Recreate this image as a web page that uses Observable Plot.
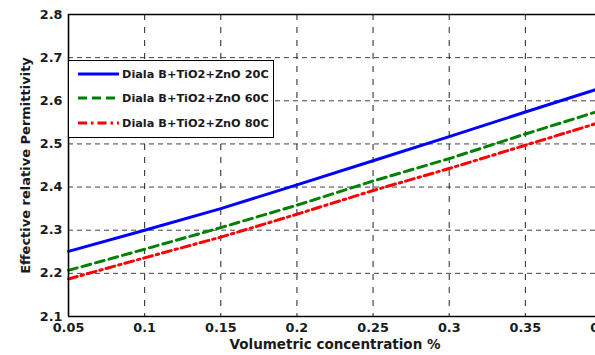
<!DOCTYPE html>
<html>
<head>
<meta charset="utf-8">
<script src="https://cdn.jsdelivr.net/npm/d3@7"></script>
<script src="https://cdn.jsdelivr.net/npm/@observablehq/plot@0.6"></script>
<style>
  html, body { margin: 0; padding: 0; background: #fff; overflow: hidden; width: 595px; height: 355px; }
  #wrap { position: relative; width: 620px; height: 355px; }
  #legend { position: absolute; left: 68px; top: 60px; width: 206px; height: 78px; background: #fff;
            border: 1.2px solid #000; box-sizing: border-box; font-family: "DejaVu Sans", sans-serif;
            font-weight: bold; font-size: 11.3px; color: #1a1a1a; }
  .row { position: absolute; left: 0; height: 14px; display: flex; align-items: center; white-space: nowrap; }
  .row svg { margin-left: 9px; margin-right: 3px; }
</style>
</head>
<body>
<div id="wrap"></div>
<script>
const concentration = [0.05, 0.1, 0.15, 0.2, 0.25, 0.3, 0.35, 0.4];
const perm20C = [2.251, 2.300, 2.350, 2.405, 2.461, 2.517, 2.574, 2.630];
const perm60C = [2.207, 2.256, 2.306, 2.358, 2.414, 2.466, 2.523, 2.578];
const perm80C = [2.187, 2.236, 2.284, 2.337, 2.392, 2.443, 2.497, 2.551];
const seriesNames = ["Diala B+TiO2+ZnO 20C", "Diala B+TiO2+ZnO 60C", "Diala B+TiO2+ZnO 80C"];
const seriesColors = ["#0000ff", "#008000", "#ff0000"];
const seriesDash = [null, "9,5", "9,4,2.5,4"];
const xTicks = [0.05, 0.1, 0.15, 0.2, 0.25, 0.3, 0.35, 0.4];
const yTicks = [2.1, 2.2, 2.3, 2.4, 2.5, 2.6, 2.7, 2.8];

const allSeries = [perm20C, perm60C, perm80C];
const rows = [];
allSeries.forEach((vals, si) => vals.forEach((v, i) => rows.push({series: seriesNames[si], x: concentration[i], y: v})));

const lineMarks = seriesNames.map((name, si) =>
  Plot.line(rows.filter(d => d.series === name), {
    x: "x", y: "y", stroke: seriesColors[si], strokeWidth: 3,
    strokeDasharray: seriesDash[si] || undefined
  })
);

const fmt = d => String(+d.toFixed(2));

const chart = Plot.plot({
  width: 620,
  height: 355,
  marginLeft: 68,
  marginRight: 19,
  marginTop: 14,
  marginBottom: 39,
  style: { fontFamily: "'DejaVu Sans', sans-serif", fontSize: "12px", fontWeight: "bold", color: "#1a1a1a", background: "#fff" },
  x: { type: "linear", domain: [0.05, 0.4] },
  y: { type: "linear", domain: [2.1, 2.8] },
  marks: [
    Plot.gridY(yTicks, { stroke: "#444", strokeOpacity: 1, strokeWidth: 1, strokeDasharray: "5,4" }),
    Plot.gridX(xTicks, { stroke: "#222", strokeOpacity: 1, strokeWidth: 1, strokeDasharray: "6,7" }),
    Plot.axisX(xTicks, { tickSize: 0, tickPadding: 6, tickFormat: fmt, fontSize: 12.8, fontWeight: "bold", label: null }),
    Plot.axisY(yTicks, { tickSize: 0, tickPadding: 6, tickFormat: fmt, fontSize: 12.8, fontWeight: "bold", label: null }),
    ...lineMarks,
    Plot.ruleY([2.1, 2.8], { stroke: "#000", strokeWidth: 1.6 }),
    Plot.ruleX([0.05, 0.4], { stroke: "#000", strokeWidth: 1.6 }),
    Plot.text(["Volumetric concentration %"], { frameAnchor: "bottom", dy: 32, text: d => d, fontSize: 13.5, fontWeight: "bold" }),
    Plot.text(["Effective relative Permittivity"], { frameAnchor: "left", dx: -43, rotate: -90, textAnchor: "middle", text: d => d, fontSize: 13, fontWeight: "bold" })
  ]
});

const wrap = document.getElementById("wrap");
wrap.appendChild(chart);

// Legend overlay
const legend = document.createElement("div");
legend.id = "legend";
const rowTops = [6, 30, 55];
seriesNames.forEach((name, i) => {
  const r = document.createElement("div");
  r.className = "row";
  r.style.top = rowTops[i] + "px";
  const dash = seriesDash[i] ? `stroke-dasharray="${seriesDash[i]}"` : "";
  r.innerHTML = `<svg width="41" height="8"><line x1="0" y1="4" x2="41" y2="4" stroke="${seriesColors[i]}" stroke-width="3" ${dash}/></svg><span>${name}</span>`;
  legend.appendChild(r);
});
wrap.appendChild(legend);
</script>
</body>
</html>
